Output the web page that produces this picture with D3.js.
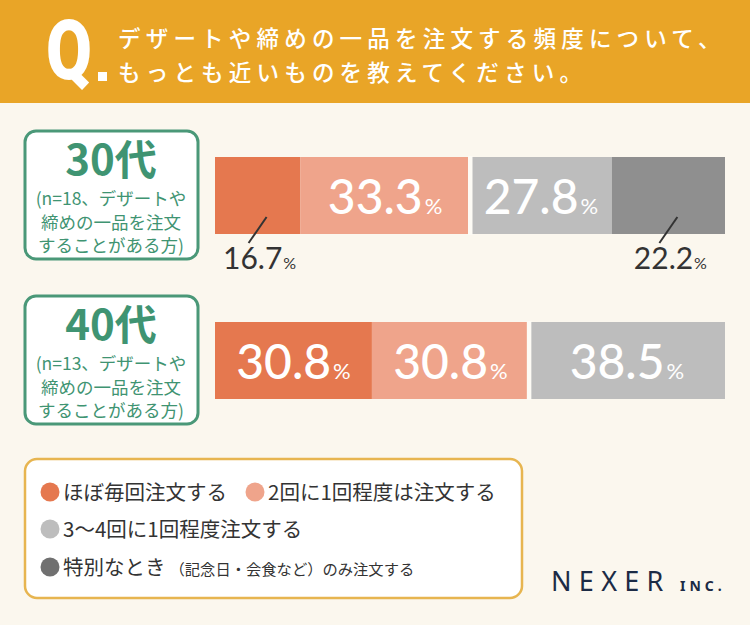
<!DOCTYPE html>
<html><head><meta charset="utf-8">
<script src="https://cdn.jsdelivr.net/npm/d3@7"></script>
<style>body{margin:0;background:#FBF7EE;}svg{display:block;}</style>
</head><body>
<script>
const titleLines = ["デザートや締めの一品を注文する頻度について、", "もっとも近いものを教えてください。"];
const categories = ["ほぼ毎回注文する", "2回に1回程度は注文する", "3〜4回に1回程度注文する", "特別なとき"];
const categoryNotes = ["", "", "", "（記念日・会食など）のみ注文する"];
const groups = ["30代", "40代"];
const groupNotes = [["(n=18、デザートや", "締めの一品を注文", "することがある方)"], ["(n=13、デザートや", "締めの一品を注文", "することがある方)"]];
const values30 = [16.7, 33.3, 27.8, 22.2];
const values40 = [30.8, 30.8, 38.5, 0];
const colors = ["#E5784F", "#EFA48B", "#BDBDBD", "#8F8F8F"];
const legendColors = ["#E5784F", "#EFA48B", "#BDBDBD", "#707070"];

const W = 750, H = 625;
const svg = d3.select("body").append("svg").attr("width", W).attr("height", H);
svg.append("rect").attr("width", W).attr("height", H).attr("fill", "#FBF7EE");

// header
svg.append("rect").attr("width", W).attr("height", 103).attr("fill", "#E9A527");
svg.append("text").attr("transform", "translate(46,79) scale(0.8,1)")
  .attr("font-family", "Roboto, 'Noto Sans', sans-serif").attr("font-weight", 900)
  .attr("font-size", 83).attr("fill", "#fff").text("Q");
svg.append("rect").attr("x", 98).attr("y", 72).attr("width", 9).attr("height", 9).attr("fill", "#fff");
svg.selectAll(".tl").data(titleLines).join("text")
  .attr("x", 118).attr("y", (d, i) => 47 + i * 34)
  .attr("font-family", "'Noto Sans CJK JP', sans-serif").attr("font-size", 22.5).attr("font-weight", 500)
  .attr("letter-spacing", 5.2).attr("fill", "#fff").text(d => d);

// bars
const x = d3.scaleLinear().domain([0, 100]).range([215, 725]);
const rows = [{g: 0, vals: values30, y0: 157}, {g: 1, vals: values40, y0: 322}];
const barH = 77;
const numFont = "Lato, 'Open Sans', sans-serif";

rows.forEach(r => {
  // group box
  const by = r.y0 - 26;
  svg.append("rect").attr("x", 25).attr("y", by).attr("width", 173).attr("height", 128)
    .attr("rx", 11).attr("fill", "#fff").attr("stroke", "#4A9878").attr("stroke-width", 3);
  svg.append("text").attr("x", 111).attr("y", by + 44).attr("text-anchor", "middle")
    .attr("font-family", "'Noto Sans CJK JP', sans-serif").attr("font-weight", 700)
    .attr("font-size", 42).attr("fill", "#3F9472").text(groups[r.g]);
  svg.selectAll(null).data(groupNotes[r.g]).join("text")
    .attr("x", 111).attr("y", (d, i) => by + 74 + i * 23.5).attr("text-anchor", "middle")
    .attr("font-family", "'Noto Sans CJK JP', sans-serif").attr("font-size", 17.5)
    .attr("fill", "#3F9472").text(d => d);

  let cum = 0;
  const segs = r.vals.map((v, i) => { const s = {v, i, a: cum, b: cum + v}; cum += v; return s; })
    .filter(s => s.v > 0);
  x.domain([0, cum]);
  svg.selectAll(null).data(segs).join("rect")
    .attr("x", s => x(s.a)).attr("y", r.y0)
    .attr("width", s => x(s.b) - x(s.a)).attr("height", barH)
    .attr("fill", s => colors[s.i]);
  // separator between order groups
  const sep = segs.find(s => s.i === 2);
  if (sep) svg.append("rect").attr("x", x(sep.a) - 2).attr("y", r.y0 - 1).attr("width", 4.5)
    .attr("height", barH + 2).attr("fill", "#FDFBF5");

  segs.forEach(s => {
    const cx = (x(s.a) + x(s.b)) / 2;
    const w = x(s.b) - x(s.a);
    if (w > 120) {
      const t = svg.append("text").attr("x", cx).attr("y", r.y0 + 57).attr("text-anchor", "middle")
        .attr("font-family", numFont).attr("fill", "#fff");
      t.append("tspan").attr("font-size", 48).attr("font-weight", 500).text(s.v.toFixed(1));
      t.append("tspan").attr("font-size", 22).attr("dx", 2).text("%");
    } else {
      svg.append("line").attr("x1", cx + 9).attr("y1", r.y0 + 60).attr("x2", cx - 9).attr("y2", r.y0 + 86)
        .attr("stroke", "#333").attr("stroke-width", 2);
      const t = svg.append("text").attr("x", cx + 2).attr("y", r.y0 + 112).attr("text-anchor", "middle")
        .attr("font-family", numFont).attr("fill", "#333");
      t.append("tspan").attr("font-size", 30).text(s.v.toFixed(1));
      t.append("tspan").attr("font-size", 16).attr("dx", 1).text("%");
    }
  });
});

// legend
svg.append("rect").attr("x", 25).attr("y", 459).attr("width", 497).attr("height", 139)
  .attr("rx", 12).attr("fill", "#fff").attr("stroke", "#E7B550").attr("stroke-width", 2.5);
const legPos = [[50, 492], [255, 492], [50, 529], [50, 567]];
categories.forEach((c, i) => {
  const [lx, ly] = legPos[i];
  svg.append("circle").attr("cx", lx).attr("cy", ly).attr("r", 9.5).attr("fill", legendColors[i]);
  const t = svg.append("text").attr("x", lx + 13).attr("y", ly + 7.5)
    .attr("font-family", "'Noto Sans CJK JP', sans-serif").attr("fill", "#333");
  t.append("tspan").attr("font-size", 20.5).text(c);
  if (categoryNotes[i]) t.append("tspan").attr("font-size", 15.3).attr("dx", 4).text(categoryNotes[i]);
});

// logo
svg.append("text").attr("x", 551).attr("y", 591).attr("font-family", "'Noto Sans', sans-serif")
  .attr("font-size", 27).attr("letter-spacing", 7.3).attr("fill", "#1C2B45").text("NEXER");
svg.append("text").attr("x", 680).attr("y", 591).attr("font-family", "'Noto Sans', sans-serif")
  .attr("font-weight", 700).attr("font-size", 14).attr("letter-spacing", 4).attr("fill", "#1C2B45").text("INC.");
</script>
</body></html>
